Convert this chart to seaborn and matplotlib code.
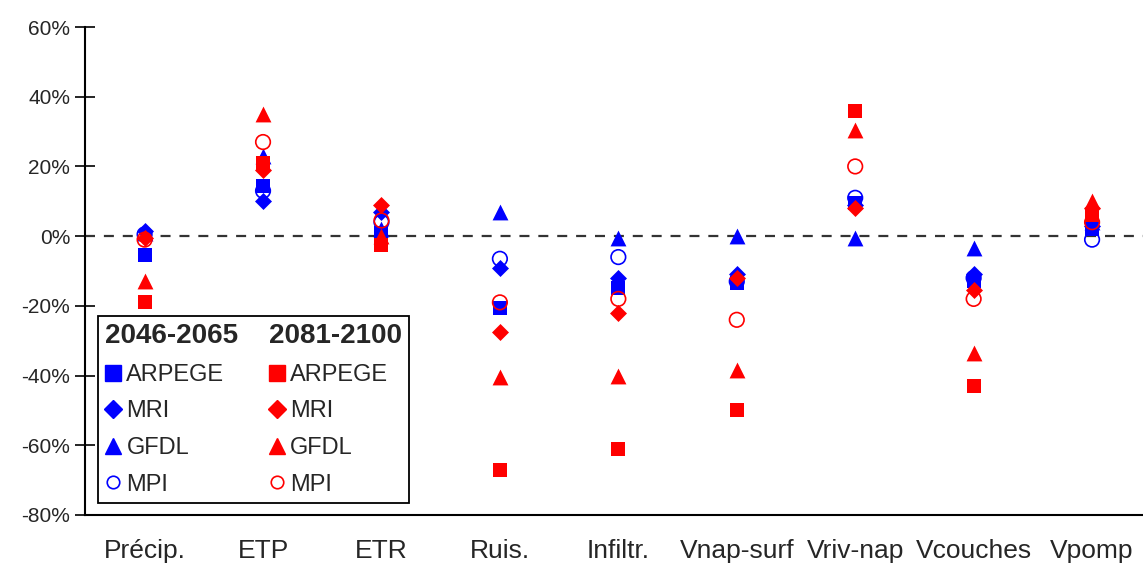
import pandas as pd
import seaborn as sns
import matplotlib.pyplot as plt
from matplotlib.lines import Line2D
from matplotlib.ticker import FuncFormatter, FixedLocator

categories = ["Précip.", "ETP", "ETR", "Ruis.", "Infiltr.",
              "Vnap-surf", "Vriv-nap", "Vcouches", "Vpomp"]
models = ["ARPEGE", "MRI", "GFDL", "MPI"]
periods = ["2046-2065", "2081-2100"]

# 2046-2065 (blue), values in %
arpege_1 = [-5.5, 14.5, 1, -20.5, -15, -13.5, 9.5, -13, 2]
mri_1 = [1.5, 10, 7, -9, -12, -11, 9, -11, 3]
gfdl_1 = [1, 23, 2, 7, -0.5, 0, -0.5, -3.5, 4]
mpi_1 = [0.5, 13, 4, -6.5, -6, -13, 11, -12, -1]

# 2081-2100 (red), values in %
arpege_2 = [-19, 21, -2.5, -67, -61, -50, 36, -43, 6]
mri_2 = [-0.5, 19, 9, -27.5, -22, -12, 8, -15.5, 8]
gfdl_2 = [-13, 35, 0, -40.5, -40, -38.5, 30.5, -33.5, 10]
mpi_2 = [-1, 27, 4.5, -19, -18, -24, 20, -18, 4]

series = {
    ("2046-2065", "ARPEGE"): arpege_1, ("2046-2065", "MRI"): mri_1,
    ("2046-2065", "GFDL"): gfdl_1, ("2046-2065", "MPI"): mpi_1,
    ("2081-2100", "ARPEGE"): arpege_2, ("2081-2100", "MRI"): mri_2,
    ("2081-2100", "GFDL"): gfdl_2, ("2081-2100", "MPI"): mpi_2,
}

rows = []
for (per, mod), vals in series.items():
    for cat, v in zip(categories, vals):
        rows.append({"period": per, "model": mod, "var": cat, "value": v})
df = pd.DataFrame(rows)
df["x"] = df["var"].map({c: i for i, c in enumerate(categories)})

sns.set_style("white")
plt.rcParams["font.family"] = ["Liberation Sans", "DejaVu Sans"]

colors = {"2046-2065": "#0000ff", "2081-2100": "#ff0000"}
markers = {"ARPEGE": "s", "MRI": "D", "GFDL": "^", "MPI": "o"}
sizes = {"ARPEGE": 110, "MRI": 75, "GFDL": 130, "MPI": 110}

fig = plt.figure(figsize=(11.43, 5.65), dpi=100)
ax = fig.add_axes([0.0747, 0.0885, 0.9253, 0.8637])

ax.axhline(0, color="#333333", lw=1.6, ls=(0, (4.5, 4)), zorder=1)

for per in periods:
    for mod in models:
        sub = df[(df.period == per) & (df.model == mod)]
        c = colors[per]
        if mod == "MPI":
            sns.scatterplot(data=sub, x="x", y="value", marker="o", s=sizes[mod],
                            facecolor="none", edgecolor=c, linewidth=1.2,
                            ax=ax, legend=False, zorder=3)
        else:
            sns.scatterplot(data=sub, x="x", y="value", marker=markers[mod],
                            s=sizes[mod], color=c, edgecolor=c, linewidth=0,
                            ax=ax, legend=False, zorder=3)

ax.set_xlim(-0.5, 8.43)
ax.set_ylim(-80, 60)
ax.set_yticks(range(-80, 61, 20))
ax.yaxis.set_major_formatter(FuncFormatter(lambda v, p: f"{v:.0f}%"))
ax.set_xticks(range(len(categories)))
ax.set_xticklabels(categories)
ax.xaxis.set_minor_locator(FixedLocator([i - 0.5 for i in range(len(categories) + 1)]))
ax.tick_params(axis="x", which="major", length=0, pad=17, labelsize=19)
ax.tick_params(axis="x", which="minor", direction="inout", length=13, width=1.2, color="black")
ax.tick_params(axis="y", which="major", direction="inout", length=14, width=1.2,
               color="black", pad=4, labelsize=15, left=True)
ax.set_xlabel("")
ax.set_ylabel("")

for s in ["top", "right"]:
    ax.spines[s].set_visible(False)
for s in ["left", "bottom"]:
    ax.spines[s].set_color("black")
    ax.spines[s].set_linewidth(1.5)

# two-column legend with period headers
handles, labels = [], []
for per in periods:
    handles.append(Line2D([], [], linestyle="none"))
    labels.append(per)
    for mod in models:
        c = colors[per]
        if mod == "MPI":
            h = Line2D([], [], linestyle="none", marker="o", markersize=9,
                       markerfacecolor="none", markeredgecolor=c, markeredgewidth=1.2)
        else:
            h = Line2D([], [], linestyle="none", marker=markers[mod],
                       markersize=11 if mod != "MRI" else 9, color=c)
        handles.append(h)
        labels.append(mod)

leg = ax.legend(handles, labels, ncol=2, loc="lower left",
                bbox_to_anchor=(0.012, 0.025), borderaxespad=0,
                fontsize=17, handlelength=0.7, handletextpad=0.2,
                labelspacing=0.62, columnspacing=1.3, borderpad=0.3,
                frameon=True, fancybox=False, framealpha=1, edgecolor="black")
leg.get_frame().set_linewidth(1.3)
for t in leg.get_texts():
    if t.get_text() in periods:
        t.set_fontweight("bold")
        t.set_fontsize(20)

# let the period headers start at the left edge of their column
for col in leg._legend_handle_box.get_children():
    first = col.get_children()[0]
    first.get_children()[0].width = 0
    first.sep = 0

fig.savefig("out.png", dpi=100)
